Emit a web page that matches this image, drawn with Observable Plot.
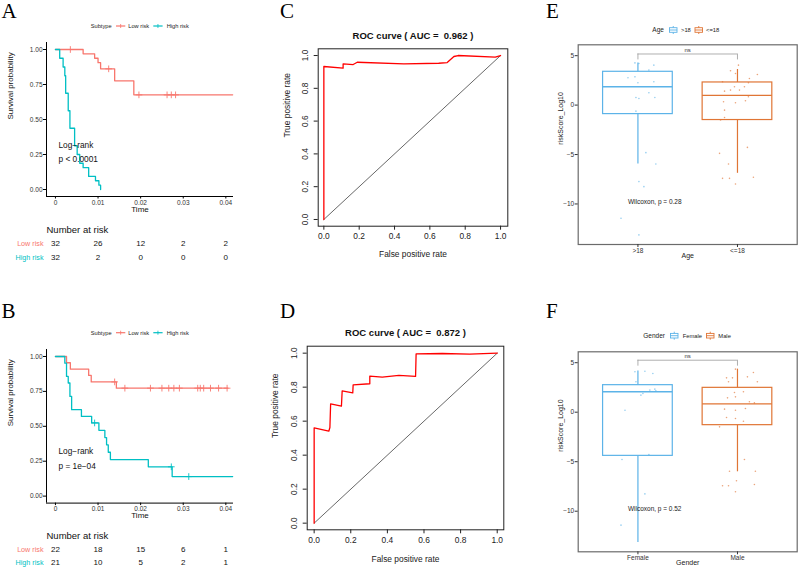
<!DOCTYPE html>
<html><head><meta charset="utf-8">
<script src="https://cdn.jsdelivr.net/npm/d3@7"></script>
<script src="https://cdn.jsdelivr.net/npm/@observablehq/plot@0.6"></script>
<style>
body{margin:0;background:#fff;}
#fig{position:relative;width:798px;height:569px;overflow:hidden;background:#fff;font-family:"Liberation Sans",Arial,sans-serif;}
#fig svg{position:absolute;}
</style></head><body><div id="fig"></div>
<script>
// ---------------- DATA ----------------
const RED = "#F8766D", CYAN = "#00BFC4", BLUE = "#5CB3E8", ORANGE = "#E07535";
const groupsKM = ["Low risk", "High risk"];
const timeTicks = [0, 0.01, 0.02, 0.03, 0.04];
const survTicks = [0, 0.25, 0.5, 0.75, 1];

// Panel A (Kaplan-Meier)
const lowA_t = [0, 0.0065, 0.0092, 0.0100, 0.0106, 0.0139, 0.0184, 0.0416];
const lowA_s = [1, 0.969, 0.9375, 0.906, 0.862, 0.776, 0.676, 0.676];
const lowA_cens = [0.0035, 0.0125, 0.0196, 0.0262, 0.0272, 0.0282];
const highA_t = [0, 0.0010, 0.0018, 0.0022, 0.0024, 0.0030, 0.0034, 0.0045, 0.0051, 0.0057, 0.0065, 0.0078, 0.0094, 0.0102, 0.0106];
const highA_s = [1, 0.9375, 0.875, 0.8125, 0.6875, 0.5625, 0.4375, 0.3125, 0.25, 0.1875, 0.15625, 0.09375, 0.0625, 0.03125, 0];
const highA_cens = [];
const riskA_low = [32, 26, 12, 2, 2];
const riskA_high = [32, 2, 0, 0, 0];
const pA = "p < 0.0001";

// Panel B (Kaplan-Meier)
const lowB_t = [0, 0.0026, 0.0035, 0.0078, 0.0084, 0.0143, 0.0405];
const lowB_s = [1, 0.955, 0.909, 0.864, 0.818, 0.773, 0.773];
const lowB_cens = [0.0139, 0.0163, 0.0223, 0.0250, 0.0266, 0.0278, 0.0291, 0.0334, 0.0340, 0.0348, 0.0364, 0.0383, 0.0403];
const highB_t = [0, 0.0022, 0.0026, 0.0030, 0.0034, 0.0038, 0.0061, 0.0085, 0.0102, 0.0116, 0.0120, 0.0124, 0.0129, 0.0218, 0.0274, 0.0416];
const highB_s = [1, 0.952, 0.857, 0.810, 0.714, 0.619, 0.571, 0.524, 0.471, 0.419, 0.367, 0.314, 0.262, 0.210, 0.140, 0.140];
const highB_cens = [0.0092, 0.0272, 0.0313];
const riskB_low = [22, 18, 15, 6, 1];
const riskB_high = [21, 10, 5, 2, 1];
const pB = "p = 1e\u221204";

// Panel C / D (ROC)
const rocTicks = [0, 0.2, 0.4, 0.6, 0.8, 1];
const rocC_fpr = [0, 0, 0.109, 0.109, 0.166, 0.189, 0.453, 0.65, 0.698, 0.736, 0.76, 0.97, 1.0];
const rocC_tpr = [0, 0.933, 0.923, 0.949, 0.945, 0.959, 0.949, 0.953, 0.957, 0.994, 1.0, 0.99, 1.0];
const aucC = "0.962";
const rocD_fpr = [0, 0, 0.08, 0.086, 0.09, 0.149, 0.153, 0.211, 0.213, 0.304, 0.304, 0.372, 0.463, 0.554, 0.557, 0.7, 0.85, 1.0];
const rocD_tpr = [0, 0.561, 0.541, 0.563, 0.702, 0.688, 0.778, 0.767, 0.814, 0.82, 0.865, 0.859, 0.869, 0.863, 0.996, 0.998, 0.994, 1.0];
const aucD = "0.872";

// Panel E (Age)
const catsE = [">18", "<=18"];
const statsE_lo = [-5.96, -6.9], statsE_q1 = [-0.91, -1.51], statsE_med = [1.85, 0.98], statsE_q3 = [3.37, 2.29], statsE_hi = [4.27, 3.6];
const ptsE1_v = [4.27, 4.21, 4.04, 3.54, 2.76, 2.86, 2.26, 2.36, 1.25, 0.77, 0.77, 0.67, -0.61, -4.81, -5.96, -7.74, -8.25, -11.45, -13.13];
const ptsE1_j = [-0.03, 0.01, 0.16, 0.11, -0.10, -0.03, 0, 0.16, 0.11, 0.17, -0.02, 0.01, -0.02, 0.08, 0.18, 0.01, 0.06, -0.17, 0.01];
const ptsE2_v = [4.04, 3.47, 3.2, 3.1, 2.69, 2.36, 1.85, 1.85, 2.26, 1.52, 1.52, 1.41, 0.84, 0.44, 0.34, 0.24, -0.51, -1.25, -1.51, -4.28, -4.88, -5.96, -7.41, -7.41, -7.98, -7.3];
const ptsE2_j = [0.01, -0.07, -0.02, 0.20, 0.12, -0.15, -0.03, 0.07, 0.11, -0.07, 0.02, -0.13, 0.11, 0.08, -0.14, -0.02, -0.13, -0.13, -0.17, 0.10, -0.18, -0.09, -0.15, -0.08, -0.02, 0.16];
const pE = "Wilcoxon, p = 0.28";

// Panel F (Gender)
const catsF = ["Female", "Male"];
const statsF_lo = [-13.16, -6.02], statsF_q1 = [-4.41, -1.31], statsF_med = [2.06, 0.84], statsF_q3 = [2.73, 2.46], statsF_hi = [4.15, 4.35];
const ptsF1_v = [4.08, 4.14, 3.91, 3.07, 2.33, 2.23, 2.16, 1.89, 1.72, 0.20, -4.27, -4.78, -8.25, -11.41];
const ptsF1_j = [-0.03, 0.07, 0.15, -0.02, 0.17, 0.12, 0.18, 0.05, 0.03, -0.13, 0.11, -0.16, 0.07, -0.17];
const ptsF2_v = [4.35, 3.47, 3.47, 4.01, 3.57, 3.07, 3.07, 1.99, 2.06, 1.45, 1.55, 1.05, 0.94, 0.31, 0.37, 0.20, -0.54, -0.64, -0.91, -1.48, -4.78, -5.96, -5.96, -7.43, -7.43, -6.93, -7.3, -8.04];
const ptsF2_j = [-0.02, -0.11, -0.05, 0.16, 0.10, 0.20, -0.09, -0.03, 0.06, -0.10, -0.02, 0.12, 0.17, -0.13, 0.08, -0.02, -0.11, -0.02, 0.06, -0.18, 0.07, -0.08, 0.18, -0.15, -0.09, -0.01, 0.17, -0.02];
const pF = "Wilcoxon, p = 0.52";
const wilcoxLabelY = -9.8;
const boxTicks = [-10, -5, 0, 5];

// ---------------- HELPERS ----------------
const fig = document.getElementById("fig");
const FONT = "Liberation Sans, Arial, sans-serif";
function put(node, left, top) { node.style.left = left + "px"; node.style.top = top + "px"; fig.appendChild(node); }
const baseStyle = {fontFamily: FONT, fontSize: "7px", background: "transparent", overflow: "visible", color: "#222"};
function survAt(ts, ss, t) { let s = ss[0]; ts.forEach((v, i) => { if (v <= t) s = ss[i]; }); return s; }

// ---------------- KM PANELS ----------------
function km({frameTop, frameBottom, lowT, lowS, lowC, highT, highS, highC, pText, riskTop, riskStep, riskLow, riskHigh}) {
  const xDom = [-0.0021, 0.0418], yDom = [-0.05, 1.05];
  const mt = 10, mb = 24;
  const lines = [
    ...lowT.map((t, i) => ({g: "Low risk", t, s: lowS[i]})),
    ...highT.map((t, i) => ({g: "High risk", t, s: highS[i]}))
  ];
  const cens = [
    ...lowC.map(t => ({g: "Low risk", t, s: survAt(lowT, lowS, t)})),
    ...highC.map(t => ({g: "High risk", t, s: survAt(highT, highS, t)}))
  ];
  const p = Plot.plot({
    width: 240, height: frameBottom - frameTop + mt + mb,
    marginLeft: 46, marginRight: 7, marginTop: mt, marginBottom: mb,
    style: baseStyle,
    x: {domain: xDom, axis: null, label: null},
    y: {domain: yDom, axis: null, label: null},
    marks: [
      Plot.ruleX([xDom[0]], {stroke: "#000", strokeWidth: 1}),
      Plot.ruleY([yDom[0]], {stroke: "#000", strokeWidth: 1}),
      Plot.axisX(timeTicks, {tickSize: 2.5, tickPadding: 1, fontSize: 6.5, stroke: "#000", fill: "#333", tickFormat: d => String(d), label: null}),
      Plot.axisY(survTicks, {tickSize: 3, tickPadding: 1, fontSize: 6.5, stroke: "#000", fill: "#333", tickFormat: d3.format(".2f"), label: null}),
      Plot.line(lines.filter(d => d.g === "Low risk"), {x: "t", y: "s", stroke: RED, strokeWidth: 1.3, curve: "step-after"}),
      Plot.line(lines.filter(d => d.g === "High risk"), {x: "t", y: "s", stroke: CYAN, strokeWidth: 1.3, curve: "step-after"}),
      Plot.dot(cens.filter(d => d.g === "Low risk"), {x: "t", y: "s", symbol: "plus", r: 2.3, stroke: RED, strokeWidth: 0.9}),
      Plot.dot(cens.filter(d => d.g === "High risk"), {x: "t", y: "s", symbol: "plus", r: 2.3, stroke: CYAN, strokeWidth: 0.9}),
      Plot.text(["Time"], {text: d => d, frameAnchor: "bottom", dy: 15, fontSize: 8, fill: "#111"}),
      Plot.text(["Survival probability"], {text: d => d, frameAnchor: "left", dx: -36, rotate: -90, fontSize: 8, fill: "#111"}),
      Plot.text(["Log\u2212rank"], {text: d => d, frameAnchor: "bottom-left", dx: 12, dy: -49, textAnchor: "start", fontSize: 8.3, fill: "#111"}),
      Plot.text([pText], {text: d => d, frameAnchor: "bottom-left", dx: 12, dy: -34.5, textAnchor: "start", fontSize: 8.3, fill: "#111"})
    ]
  });
  put(p, 0, frameTop - mt);

  const riskData = [
    ...timeTicks.map((t, i) => ({g: "Low risk", t, n: riskLow[i]})),
    ...timeTicks.map((t, i) => ({g: "High risk", t, n: riskHigh[i]}))
  ];
  const r = Plot.plot({
    width: 240, height: 25 + riskStep + 11,
    marginLeft: 46, marginRight: 7, marginTop: 25, marginBottom: 11,
    style: baseStyle,
    x: {domain: xDom, axis: null},
    y: {type: "point", domain: groupsKM, padding: 0, axis: null},
    marks: [
      Plot.text(["Number at risk"], {text: d => d, frameAnchor: "top-left", dy: -17, textAnchor: "start", fontSize: 9.5, fill: "#111"}),
      Plot.text(["Low risk"], {y: d => d, text: d => d, frameAnchor: "left", dx: -3, textAnchor: "end", fontSize: 7.2, fill: RED}),
      Plot.text(["High risk"], {y: d => d, text: d => d, frameAnchor: "left", dx: -3, textAnchor: "end", fontSize: 7.2, fill: CYAN}),
      Plot.text(riskData, {x: "t", y: "g", text: d => String(d.n), fontSize: 8, fill: "#111"})
    ]
  });
  put(r, 0, riskTop);
}

km({frameTop: 42, frameBottom: 196, lowT: lowA_t, lowS: lowA_s, lowC: lowA_cens, highT: highA_t, highS: highA_s, highC: highA_cens,
    pText: pA, riskTop: 218, riskStep: 14, riskLow: riskA_low, riskHigh: riskA_high});
km({frameTop: 348.7, frameBottom: 502.3, lowT: lowB_t, lowS: lowB_s, lowC: lowB_cens, highT: highB_t, highS: highB_s, highC: highB_cens,
    pText: pB, riskTop: 524, riskStep: 13, riskLow: riskB_low, riskHigh: riskB_high});

// ---------------- ROC PANELS ----------------
function roc({left, top, width, height, ml, mr, mt, mb, xDom, yDom, fpr, tpr, auc, titleDy, xlabDy, ytickDx, ylabDx}) {
  const data = fpr.map((f, i) => ({fpr: f, tpr: tpr[i]}));
  const p = Plot.plot({
    width, height, marginLeft: ml, marginRight: mr, marginTop: mt, marginBottom: mb,
    style: baseStyle,
    x: {domain: xDom, axis: null, label: null},
    y: {domain: yDom, axis: null, label: null},
    marks: [
      Plot.line([0, 1], {x: d => d, y: d => d, stroke: "#000", strokeWidth: 0.6}),
      Plot.line(data, {x: "fpr", y: "tpr", stroke: "#FF0000", strokeWidth: 1.3}),
      Plot.frame({stroke: "#222", strokeWidth: 1}),
      Plot.axisX(rocTicks, {tickSize: 4, tickPadding: 3, fontSize: 8.4, stroke: "#222", fill: "#222", tickFormat: d3.format(".1f"), label: null}),
      Plot.axisY(rocTicks, {tickSize: 4, tickPadding: 1, stroke: "#222", tickFormat: () => "", label: null}),
      Plot.text(rocTicks, {y: d => d, text: d3.format(".1f"), frameAnchor: "left", dx: ytickDx, rotate: -90, textAnchor: "middle", fontSize: 8.4, fill: "#222"}),
      Plot.text([`ROC curve ( AUC =  ${auc} )`], {text: d => d, frameAnchor: "top", dy: titleDy, fontSize: 9.5, fontWeight: "bold", fill: "#111"}),
      Plot.text(["False positive rate"], {text: d => d, frameAnchor: "bottom", dy: xlabDy, fontSize: 8.4, fill: "#222"}),
      Plot.text(["True positive rate"], {text: d => d, frameAnchor: "left", dx: ylabDx, rotate: -90, fontSize: 8.4, fill: "#222"})
    ]
  });
  put(p, left, top);
}
roc({left: 270, top: 20, width: 245, height: 250, ml: 47.7, mr: 7.7, mt: 28.3, mb: 44.3,
     xDom: [-0.032, 1.041], yDom: [-0.041, 1.041], fpr: rocC_fpr, tpr: rocC_tpr, auc: aucC,
     titleDy: -16.6, xlabDy: 30.3, ytickDx: -12.7, ylabDx: -31});
roc({left: 260, top: 310, width: 250, height: 260, ml: 46.7, mr: 6.7, mt: 35.7, mb: 40.7,
     xDom: [-0.038, 1.036], yDom: [-0.039, 1.041], fpr: rocD_fpr, tpr: rocD_tpr, auc: aucD,
     titleDy: -17.4, xlabDy: 31.7, ytickDx: -13.4, ylabDx: -31.7});

// ---------------- BOX PANELS ----------------
function box({top, height, cats, lo, q1, med, q3, hi, p1v, p1j, p2v, p2j, xTitle, pText, xlabDy}) {
  const cols = [BLUE, ORANGE];
  const stats = cats.map((c, i) => ({pos: i + 1, lo: lo[i], q1: q1[i], med: med[i], q3: q3[i], hi: hi[i], col: cols[i]}));
  const pts = [
    ...p1v.map((v, i) => ({pos: 1, v, j: p1j[i], col: cols[0]})),
    ...p2v.map((v, i) => ({pos: 2, v, j: p2j[i], col: cols[1]}))
  ];
  const half = 0.35;
  const yMax = d3.max([...hi, ...p1v, ...p2v]);
  const bracketY = yMax + 0.9;
  const p = Plot.plot({
    width: 258, height, marginLeft: 37.7, marginRight: 1.3, marginTop: 14.3, marginBottom: 21,
    style: baseStyle,
    x: {domain: [0.4, 2.6], axis: null, label: null},
    y: {domain: [-14.1, 6.1], axis: null, label: null},
    color: {type: "identity"},
    marks: [
      Plot.frame({stroke: "#6b6b6b", strokeWidth: 1.2}),
      Plot.ruleX(stats, {x: "pos", y1: "q3", y2: "hi", stroke: "col", strokeWidth: 1.2}),
      Plot.ruleX(stats, {x: "pos", y1: "lo", y2: "q1", stroke: "col", strokeWidth: 1.2}),
      Plot.rect(stats, {x1: d => d.pos - half, x2: d => d.pos + half, y1: "q1", y2: "q3", fill: "white", stroke: "col", strokeWidth: 1.2}),
      Plot.ruleY(stats, {y: "med", x1: d => d.pos - half, x2: d => d.pos + half, stroke: "col", strokeWidth: 1.4}),
      Plot.dot(pts, {x: d => d.pos + d.j, y: "v", r: 0.8, fill: "col", fillOpacity: 0.65, stroke: null}),
      Plot.ruleY([bracketY], {x1: 1, x2: 2, stroke: "#9a9a9a", strokeWidth: 0.8}),
      Plot.ruleX([1, 2], {x: d => d, y1: bracketY, y2: bracketY - 0.6, stroke: "#9a9a9a", strokeWidth: 0.8}),
      Plot.text(["ns"], {text: d => d, x: () => 1.5, y: () => bracketY + 0.42, fontSize: 6, fill: "#333"}),
      Plot.text([pText], {text: d => d, x: () => 1, y: () => wilcoxLabelY, dx: -10, textAnchor: "start", fontSize: 6.5, fill: "#222"}),
      Plot.axisX([1, 2], {tickSize: 3, tickPadding: 0.5, fontSize: 6.5, stroke: "#333", fill: "#333", tickFormat: d => cats[d - 1], label: null}),
      Plot.axisY(boxTicks, {tickSize: 3, tickPadding: 1, fontSize: 6.5, stroke: "#333", fill: "#333", label: null}),
      Plot.text([xTitle], {text: d => d, frameAnchor: "bottom", dy: xlabDy, fontSize: 7, fill: "#222"}),
      Plot.text(["riskScore_Log10"], {text: d => d, frameAnchor: "left", dx: -17.7, rotate: -90, fontSize: 7, fill: "#222"})
    ]
  });
  put(p, 540, top);
}
box({top: 30, height: 235, cats: catsE, lo: statsE_lo, q1: statsE_q1, med: statsE_med, q3: statsE_q3, hi: statsE_hi,
     p1v: ptsE1_v, p1j: ptsE1_j, p2v: ptsE2_v, p2j: ptsE2_j, xTitle: "Age", pText: pE, xlabDy: 13.7});
box({top: 337.4, height: 235.3, cats: catsF, lo: statsF_lo, q1: statsF_q1, med: statsF_med, q3: statsF_q3, hi: statsF_hi,
     p1v: ptsF1_v, p1j: ptsF1_j, p2v: ptsF2_v, p2j: ptsF2_j, xTitle: "Gender", pText: pF, xlabDy: 13.3});

// ---------------- OVERLAY: panel letters and legends ----------------
const ov = d3.select(fig).append("svg").attr("width", 798).attr("height", 569)
  .style("left", "0px").style("top", "0px").style("pointer-events", "none");
const letters = [["A", 1.5, 18], ["B", 1.5, 317.5], ["C", 280, 18], ["D", 280, 317.5], ["E", 546, 18], ["F", 546, 317.5]];
letters.forEach(([t, x, y]) => ov.append("text").attr("x", x).attr("y", y).text(t)
  .attr("font-family", "Liberation Serif, Times New Roman, serif").attr("font-size", 21).attr("fill", "#000"));

function txt(x, y, t, size, fill = "#222") {
  ov.append("text").attr("x", x).attr("y", y).attr("dy", "0.35em").text(t)
    .attr("font-family", FONT).attr("font-size", size).attr("fill", fill);
}
function kmLegend(y) {
  txt(90.7, y, "Subtype", 5.7);
  [[116, RED, "Low risk", 128.3], [153.3, CYAN, "High risk", 166.7]].forEach(([x, c, lab, lx]) => {
    ov.append("line").attr("x1", x).attr("x2", x + 9.3).attr("y1", y).attr("y2", y).attr("stroke", c).attr("stroke-width", 1.2);
    ov.append("line").attr("x1", x + 4.65).attr("x2", x + 4.65).attr("y1", y - 2).attr("y2", y + 2).attr("stroke", c).attr("stroke-width", 0.8);
    txt(lx, y, lab, 5.7);
  });
}
kmLegend(26);
kmLegend(332.7);

function boxIcon(x, y, c) {
  ov.append("rect").attr("x", x).attr("y", y - 2.3).attr("width", 7.5).attr("height", 4.6).attr("fill", "white").attr("stroke", c).attr("stroke-width", 0.9);
  ov.append("line").attr("x1", x).attr("x2", x + 7.5).attr("y1", y).attr("y2", y).attr("stroke", c).attr("stroke-width", 0.9);
  ov.append("line").attr("x1", x + 3.75).attr("x2", x + 3.75).attr("y1", y - 4).attr("y2", y - 2.3).attr("stroke", c).attr("stroke-width", 0.9);
  ov.append("line").attr("x1", x + 3.75).attr("x2", x + 3.75).attr("y1", y + 2.3).attr("y2", y + 4).attr("stroke", c).attr("stroke-width", 0.9);
}
// Legend E
txt(652.3, 30, "Age", 6.5);
boxIcon(669.5, 30, BLUE); txt(681, 30, catsE[0], 5.8);
boxIcon(695, 30, ORANGE); txt(706, 30, catsE[1], 5.8);
// Legend F
txt(643.3, 335.7, "Gender", 6.5);
boxIcon(670.5, 335.7, BLUE); txt(682.7, 335.7, catsF[0], 5.8);
boxIcon(706.5, 335.7, ORANGE); txt(718.3, 335.7, catsF[1], 5.8);
</script></body></html>
